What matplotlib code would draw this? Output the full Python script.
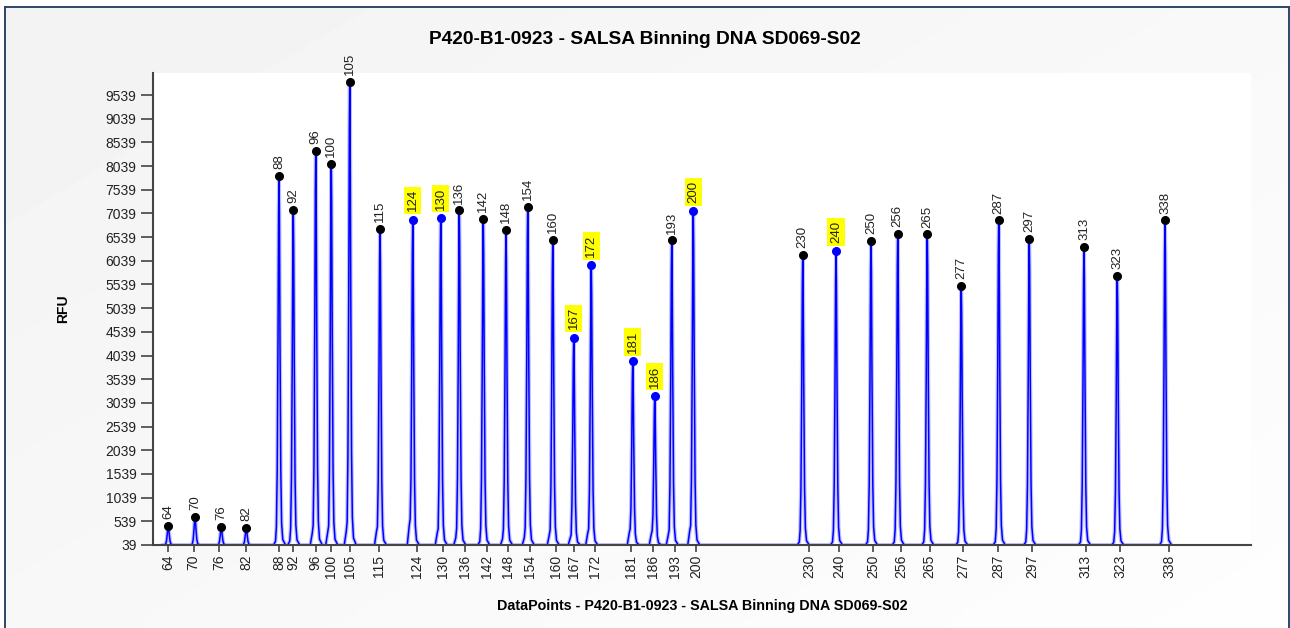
import numpy as np
import matplotlib.pyplot as plt

plt.rcParams['font.family'] = ['Liberation Sans', 'DejaVu Sans']

# bins (size labels on the x axis) and their expected datapoint positions
bin_labels = [64, 70, 76, 82, 88, 92, 96, 100, 105, 115, 124, 130, 136, 142, 148, 154, 160,
              167, 172, 181, 186, 193, 200, 230, 240, 250, 256, 265, 277, 287, 297, 313, 323, 338]
bin_dp = [1061, 1163, 1264, 1372, 1505, 1561, 1651, 1712, 1789, 1905, 2057, 2159, 2247, 2335,
          2420, 2509, 2612, 2684, 2767, 2913, 3001, 3088, 3173, 3624, 3745, 3881, 3991, 4107,
          4240, 4381, 4517, 4731, 4869, 5065]

# detected peaks: datapoint, height (RFU), left shoulder height (RFU, 0 = none)
peak_dp = [1061, 1168, 1273, 1373, 1504, 1561, 1651, 1713, 1787, 1908, 2039, 2151, 2225, 2321,
           2412, 2499, 2599, 2683, 2753, 2919, 3007, 3075, 3161, 3599, 3732, 3872, 3979, 4097,
           4233, 4383, 4505, 4724, 4857, 5048]
peak_rfu = [447, 637, 411, 398, 7827, 7109, 8355, 8089, 9813, 6707, 6906, 6939, 7102, 6918,
            6694, 7172, 6475, 4413, 5940, 3918, 3187, 6468, 7081, 6166, 6236, 6462, 6610, 6595,
            5503, 6891, 6496, 6335, 5714, 6891]
shoulder_rfu = [0, 0, 0, 0, 0, 110, 330, 380, 380, 385, 550, 340, 200, 0,
                170, 200, 280, 200, 340, 340, 300, 280, 410, 0, 0, 0, 0, 0,
                0, 0, 0, 0, 0, 0]
flagged = [124, 130, 167, 172, 181, 186, 200, 240]

y_ticks = list(range(39, 9540, 500))
baseline = 39

title = 'P420-B1-0923 - SALSA Binning DNA SD069-S02'
xlabel = 'DataPoints - P420-B1-0923 - SALSA Binning DNA SD069-S02'

W, H = 1290, 628
fig = plt.figure(figsize=(W / 100, H / 100), dpi=100)
fig.patch.set_facecolor('white')

# light grey gradient panel with a dark frame
bg = fig.add_axes([5 / W, 0, (1289 - 5) / W, (H - 7) / H], zorder=-10)
gy, gx = np.mgrid[0:1:200j, 0:1:400j]
grad = 0.950 + 0.045 * (0.55 * gx + 0.45 * gy)
bg.imshow(grad, cmap='gray', vmin=0, vmax=1, extent=[0, 1, 0, 1], aspect='auto')
bg.set_xticks([])
bg.set_yticks([])
for side in ['left', 'top', 'right']:
    bg.spines[side].set_color('#2e4766')
    bg.spines[side].set_linewidth(1.4)
bg.spines['bottom'].set_visible(False)

ax = fig.add_axes([153 / W, (H - 545) / H, (1251 - 153) / W, (545 - 73) / H])
ax.set_facecolor('white')

# trace: each peak drawn with the same sharp profile (offsets in datapoints)
prof_dx = np.array([-22, -14, -10.4, -7.2, -4, -1.6, 0, 1.6, 4, 7.2, 10.4, 15, 26])
prof_fr = np.array([0, 0.01, 0.05, 0.2, 0.55, 0.9, 1, 0.9, 0.55, 0.2, 0.06, 0.015, 0])
tx, ty = [], []
for p, h, s in zip(peak_dp, peak_rfu, shoulder_rfu):
    ys = baseline + (h - baseline) * prof_fr
    if s > 0:
        ys[2] = max(ys[2], baseline + s)
        ys[1] = max(ys[1], baseline + s * 0.75)
    tx.extend(p + prof_dx)
    ty.extend(ys)
ax.plot(tx, ty, color='#0000ff', lw=2.8, alpha=0.25, zorder=2)
ax.plot(tx, ty, color='#0000ff', lw=1.1, zorder=3)

for lab, p, h in zip(bin_labels, peak_dp, peak_rfu):
    hit = lab in flagged
    ax.plot(p, h, 'o', ms=5.5, color='#0000ff' if hit else 'black', zorder=4, clip_on=False)
    kw = dict(bbox=dict(boxstyle='square,pad=0.2', fc='#ffff00', ec='none')) if hit else {}
    ax.annotate(str(lab), (p, h), xytext=(0, 6 if hit else 5), textcoords='offset points',
                rotation=90, ha='center', va='bottom', fontsize=9.5, color='#222222',
                annotation_clip=False, **kw)

ax.set_xlim(1000, 5392)
ax.set_ylim(39, 10004)
ax.set_yticks(y_ticks, [str(v) for v in y_ticks])
ax.set_xticks(bin_dp, [str(b) for b in bin_labels])
for side in ['top', 'right']:
    ax.spines[side].set_visible(False)
for side in ['left', 'bottom']:
    ax.spines[side].set_color('#444444')
    ax.spines[side].set_linewidth(1.5)
    ax.spines[side].set_zorder(5)
ax.tick_params(axis='y', length=9, width=1.2, color='#444444', labelsize=10, pad=3,
               labelcolor='#222222')
ax.tick_params(axis='x', length=5, width=1.2, color='#444444', labelsize=10, pad=2,
               labelrotation=90, labelcolor='#222222')

ax.set_ylabel('RFU', fontweight='bold', fontsize=10)
ax.yaxis.set_label_coords((70 - 153) / 1098, 0.5)
ax.set_xlabel(xlabel, fontweight='bold', fontsize=10.3)
ax.xaxis.set_label_coords(0.5, (545 - 599) / 472)
fig.text(0.5, 1 - 40 / H, title, ha='center', va='center', fontweight='bold', fontsize=13.8)

fig.savefig('out.png', dpi=100)
